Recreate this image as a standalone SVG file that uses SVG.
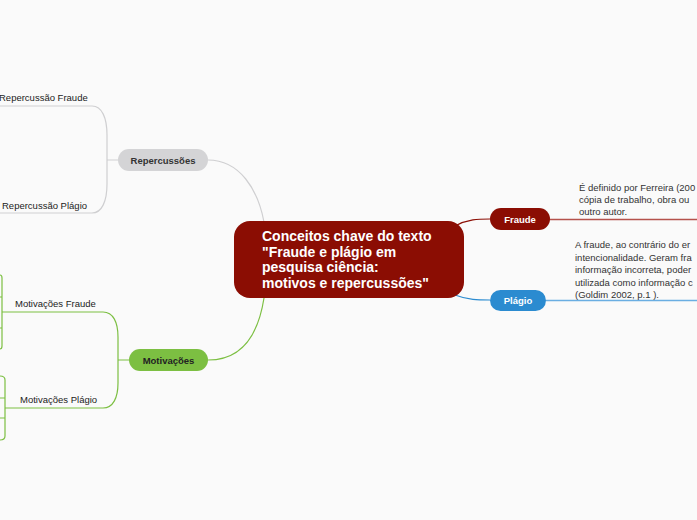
<svg xmlns="http://www.w3.org/2000/svg" width="697" height="520" viewBox="0 0 697 520">
<style>
.lbl{font-family:"Liberation Sans",Arial,sans-serif;font-size:9.5px;fill:#222}
.note{font-family:"Liberation Sans",Arial,sans-serif;font-size:9.5px;fill:#333}
.nt{font-family:"Liberation Sans",Arial,sans-serif;font-size:9.5px;font-weight:bold;text-anchor:middle}
.ct{font-family:"Liberation Sans",Arial,sans-serif;font-size:14px;font-weight:bold;fill:#fff}
.c{fill:none;stroke-width:1.2}
</style>
<rect width="697" height="520" fill="#fafafa"/>
<g id="connectors">
  <path class="c" stroke="#cfcfd1" d="M208,160 C240,160 258,190 264,222"/>
  <path class="c" stroke="#7cbf42" d="M208,360 C245,360 259,330 264,298"/>
  <path class="c" stroke="#8b0d03" d="M455,226 C468,219 478,219 490,219"/>
  <path class="c" stroke="#2b8bd0" d="M455,295 C468,300 478,300 490,300"/>
  <path class="c" stroke="#cfcfd1" d="M118,160 H107 M0,106 H92 C102,106 107,118 107,135 V184 C107,201 102,213 92,213 H0"/>
  <path class="c" stroke="#7cbf42" d="M129,360 H118 M2,312 H103 C113,312 118,322 118,337 V383 C118,398 113,408 103,408 H5"/>
  <path class="c" stroke="#7cbf42" d="M0,275 Q2,275 2,278 V346 Q2,349 0,349 M0,297 H2 M0,328 H2"/>
  <path class="c" stroke="#7cbf42" d="M0,376 Q5,376 5,380 V436 Q5,440 0,440 M0,398 H5 M0,418 H5"/>
  <path fill="none" stroke="#b5524c" stroke-width="1.4" d="M550,219.5 H697"/>
  <path fill="none" stroke="#6aaee2" stroke-width="1.4" d="M546,300.5 H697"/>
</g>
<g id="central">
  <rect x="234" y="221" width="230" height="77" rx="16" fill="#8b0d03"/>
  <text class="ct" x="262" y="241">Conceitos chave do texto</text>
  <text class="ct" x="262" y="256.5">"Fraude e plágio em</text>
  <text class="ct" x="262" y="272">pesquisa ciência:</text>
  <text class="ct" x="262" y="287.5">motivos e repercussões"</text>
</g>
<g id="repercussoes">
  <rect x="118" y="149" width="90" height="22" rx="11" fill="#d4d4d6"/>
  <text class="nt" x="163" y="163.5" fill="#333">Repercussões</text>
</g>
<g id="repercussao-fraude">
  <text class="lbl" x="-1" y="101">Repercussão Fraude</text>
</g>
<g id="repercussao-plagio">
  <text class="lbl" x="2" y="209">Repercussão Plágio</text>
</g>
<g id="motivacoes">
  <rect x="129" y="349" width="79" height="22" rx="11" fill="#7cbf42"/>
  <text class="nt" x="168.5" y="363.5" fill="#222">Motivações</text>
</g>
<g id="motivacoes-fraude">
  <text class="lbl" x="15" y="307">Motivações Fraude</text>
</g>
<g id="motivacoes-plagio">
  <text class="lbl" x="20" y="403">Motivações Plágio</text>
</g>
<g id="fraude">
  <rect x="490" y="208" width="60" height="22" rx="11" fill="#8b0d03"/>
  <text class="nt" x="520" y="222.5" fill="#fff">Fraude</text>
  <text class="note" x="579" y="191">É definido por Ferreira (200</text>
  <text class="note" x="579" y="203">cópia de trabalho, obra ou</text>
  <text class="note" x="579" y="215">outro autor.</text>
</g>
<g id="plagio">
  <rect x="490" y="290" width="56" height="21" rx="10.5" fill="#2b8bd0"/>
  <text class="nt" x="518" y="304" fill="#fff">Plágio</text>
  <text class="note" x="575" y="248">A fraude, ao contrário do er</text>
  <text class="note" x="575" y="261">intencionalidade. Geram fra</text>
  <text class="note" x="575" y="273">informação incorreta, poder</text>
  <text class="note" x="575" y="286">utilizada como informação c</text>
  <text class="note" x="575" y="298">(Goldim 2002, p.1 ).</text>
</g>
</svg>
